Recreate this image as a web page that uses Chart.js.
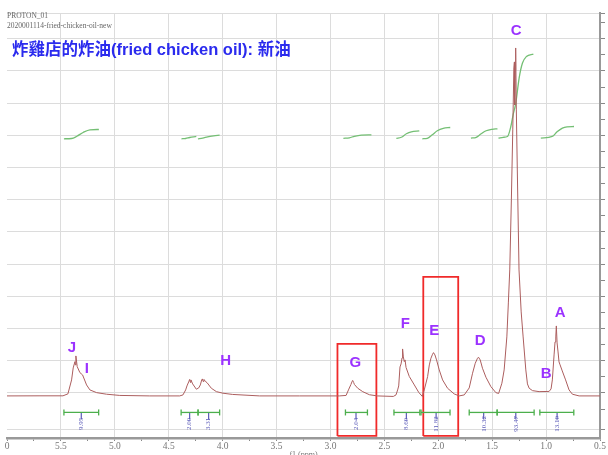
<!DOCTYPE html>
<html><head><meta charset="utf-8">
<script src="https://cdn.jsdelivr.net/npm/chart.js@4.4.1/dist/chart.umd.min.js"></script>
<style>html,body{margin:0;padding:0;background:#fff}canvas{display:block}</style>
</head><body>
<canvas id="c" width="608" height="455"></canvas>
<script>
// ---- header / title text ----
const headerLines = ['PROTON_01', '2020001114-fried-chicken-oil-new'];
const titleText = '炸雞店的炸油(fried chicken oil): 新油';
const xTitle = 'f1 (ppm)';

// ---- x axis ticks (ppm) ----
const xLabelValues = [6.0, 5.5, 5.0, 4.5, 4.0, 3.5, 3.0, 2.5, 2.0, 1.5, 1.0, 0.5];
const xLabelTexts  = ['0', '5.5', '5.0', '4.5', '4.0', '3.5', '3.0', '2.5', '2.0', '1.5', '1.0', '0.5'];
const xMinorTicks  = [5.75, 5.25, 4.75, 4.25, 3.75, 3.25, 2.75, 2.25, 1.75, 1.25, 0.75];

// ---- y axis (intensity) ----
const yGridValues  = [-1.15, 0, 1, 2, 3, 4, 5, 6, 7, 8, 9, 10, 11, 11.8];
const yMinorTicks  = [-0.5, 0.5, 1.5, 2.5, 3.5, 4.5, 5.5, 6.5, 7.5, 8.5, 9.5, 10.5, 11.5];

// ---- 1H spectrum ----
const spectrumPpm = [6.000,5.694,5.481,5.435,5.401,5.386,5.370,5.366,5.361,5.349,5.324,5.299,5.262,5.231,5.169,5.077,4.954,4.676,
 4.398,4.368,4.343,4.331,4.315,4.306,4.299,4.294,4.278,4.244,4.222,4.207,4.194,4.188,4.181,4.173,4.160,4.145,4.105,4.058,3.997,3.907,3.657,3.287,
 2.917,2.855,2.833,2.810,2.801,2.794,2.785,2.778,2.747,2.701,2.639,2.565,2.417,
 2.392,2.377,2.367,2.355,2.345,2.336,2.331,2.324,2.315,2.308,2.299,2.269,2.222,2.181,2.148,
 2.130,2.099,2.083,2.068,2.053,2.044,2.031,2.016,1.991,1.960,1.914,1.852,1.806,1.759,
 1.713,1.682,1.657,1.636,1.627,1.611,1.590,1.558,1.512,1.466,1.440,
 1.410,1.389,1.364,1.350,1.337,1.322,1.309,1.299,1.294,1.291,1.286,1.282,1.276,1.267,1.251,1.231,1.213,1.188,1.173,1.157,1.126,1.065,0.972,
 0.954,0.942,0.926,0.917,0.910,0.905,0.898,0.889,0.880,0.870,0.850,0.819,0.787,0.756,0.694,0.500];
const spectrumInt = [-0.093,-0.090,-0.090,-0.030,0.404,0.776,0.972,0.870,1.149,0.817,0.631,0.559,0.248,0.093,0.009,-0.040,-0.078,-0.093,
 -0.093,-0.062,0.093,0.217,0.342,0.419,0.326,0.404,0.280,0.115,0.155,0.248,0.404,0.435,0.357,0.419,0.357,0.320,0.146,0.040,-0.009,-0.047,-0.093,-0.093,
 -0.093,-0.078,0.093,0.264,0.342,0.388,0.326,0.264,0.146,0.040,-0.056,-0.093,-0.109,
 -0.062,0.093,0.217,0.807,0.901,1.087,1.366,1.118,0.972,1.025,0.792,0.512,0.248,0.016,-0.109,
 0.093,0.506,0.870,1.078,1.202,1.252,1.180,1.025,0.714,0.404,0.146,-0.031,-0.093,-0.062,
 0.155,0.612,0.922,1.078,1.109,1.025,0.767,0.488,0.196,0.009,-0.016,
 0.301,0.714,1.739,2.795,3.820,5.994,8.168,10.093,10.280,8.944,10.031,10.714,8.789,6.925,3.820,2.516,1.739,0.714,0.280,0.146,0.071,0.040,0.047,
 0.124,0.404,1.180,1.584,1.739,2.081,1.553,1.273,0.963,0.870,0.683,0.404,0.093,-0.040,-0.093,-0.093];

// ---- integral curves (ppm, level) ----
const integralCurvesPpm = [
 [5.472,5.401,5.352,5.294,5.231,5.148],
 [4.382,4.343,4.306,4.269,4.244],
 [4.229,4.185,4.139,4.083,4.028],
 [2.880,2.824,2.778,2.713,2.620],
 [2.389,2.343,2.296,2.250,2.176],
 [2.148,2.102,2.056,2.009,1.954,1.889],
 [1.697,1.648,1.602,1.556,1.500,1.451],
 [1.442,1.398,1.358,1.327,1.306,1.281,1.250,1.219,1.182,1.118],
 [1.049,0.943,0.898,0.849,0.806,0.741]
];
const integralCurvesInt = [
 [7.893,7.902,7.971,8.089,8.173,8.182],
 [7.893,7.902,7.933,7.955,7.965],
 [7.893,7.915,7.955,7.986,8.008],
 [7.909,7.924,7.971,8.008,8.017],
 [7.909,7.940,8.048,8.111,8.142],
 [7.893,7.909,8.017,8.142,8.219,8.244],
 [7.915,7.940,8.048,8.142,8.188,8.204],
 [7.915,7.940,7.965,8.275,8.639,9.003,9.779,10.245,10.450,10.525],
 [7.915,7.965,8.111,8.226,8.266,8.275]
];

// ---- integration ranges & values ----
const integralStart  = [5.472, 4.385, 4.228, 2.861, 2.411, 2.160, 1.713, 1.454, 1.058];
const integralEnd    = [5.150, 4.228, 4.028, 2.657, 2.171, 1.891, 1.454, 1.111, 0.743];
const integralCenter = [5.311, 4.306, 4.130, 2.763, 2.296, 2.020, 1.579, 1.281, 0.898];
const integralValues = ['9.95', '2.00', '3.31', '2.04', '8.60', '11.82', '10.32', '93.47', '13.10'];
const integralBarLevel = -0.606;
const integralTickLevel = -0.715;
const integralLabelLevel = -0.963;

// ---- peak letters ----
const peakLetters = ['J', 'I', 'H', 'G', 'F', 'E', 'D', 'C', 'B', 'A'];
const peakPpm     = [5.398, 5.259, 3.972, 2.769, 2.306, 2.037, 1.611, 1.278, 1.000, 0.870];
const peakLevel   = [1.398, 0.745, 0.994, 0.932, 2.143, 1.925, 1.615, 11.242, 0.590, 2.484];

// ---- highlight boxes [ppmLeft, ppmRight, bottom, top] ----
const boxG = [2.935, 2.574, -1.336, 1.522];
const boxE = [2.139, 1.815, -1.336, 3.602];

const pts = (xs, ys) => xs.map((v, i) => ({x: v, y: ys[i]}));
const boxPts = b => [{x:b[0],y:b[2]},{x:b[0],y:b[3]},{x:b[1],y:b[3]},{x:b[1],y:b[2]},{x:b[0],y:b[2]}];

const datasets = [];
datasets.push({data: pts(spectrumPpm, spectrumInt), showLine: true, borderColor: '#ac5e5e', borderWidth: 1, pointRadius: 0, tension: 0});
integralCurvesPpm.forEach((xs, i) => datasets.push({data: pts(xs, integralCurvesInt[i]), showLine: true, borderColor: '#74bf74', borderWidth: 1.3, pointRadius: 0, tension: 0.4, cubicInterpolationMode: 'monotone'}));
integralStart.forEach((s, i) => datasets.push({data: [{x: s, y: integralBarLevel}, {x: integralEnd[i], y: integralBarLevel}], showLine: true, borderColor: '#4caf4c', borderWidth: 1.3, pointStyle: 'line', rotation: 90, pointRadius: 3, pointBorderColor: '#4caf4c', pointBorderWidth: 1.3}));
datasets.push({data: integralCenter.map(c => ({x: c, y: integralTickLevel})), showLine: false, pointStyle: 'line', rotation: 90, pointRadius: 3.5, pointBorderColor: '#5a5ab8', pointBorderWidth: 1.2});
[boxG, boxE].forEach(b => datasets.push({data: boxPts(b), showLine: true, borderColor: '#f02a2a', borderWidth: 1.8, pointRadius: 0, tension: 0}));

const overlay = {
  id: 'overlay',
  afterDatasetsDraw(chart) {
    const {ctx, scales: {x, y}} = chart;
    ctx.save();
    ctx.textAlign = 'left'; ctx.textBaseline = 'middle';
    ctx.fillStyle = '#666';
    ctx.font = '7.5px "Liberation Serif", serif';
    ctx.fillText(headerLines[0], 7, 16);
    ctx.fillText(headerLines[1], 7, 26);
    ctx.fillStyle = '#2b2bee';
    ctx.font = 'bold 16.5px "Liberation Sans", "Noto Sans CJK TC", sans-serif';
    ctx.fillText(titleText, 12, 50);
    ctx.fillStyle = '#9b32ff';
    ctx.font = 'bold 15px "Liberation Sans", Arial, sans-serif';
    ctx.textAlign = 'center';
    peakLetters.forEach((t, i) => ctx.fillText(t, x.getPixelForValue(peakPpm[i]), y.getPixelForValue(peakLevel[i])));
    ctx.fillStyle = '#5a5ab8';
    ctx.font = '7px "Liberation Serif", serif';
    integralValues.forEach((t, i) => {
      ctx.save();
      ctx.translate(x.getPixelForValue(integralCenter[i]), y.getPixelForValue(integralLabelLevel));
      ctx.rotate(-Math.PI / 2);
      ctx.textAlign = 'center'; ctx.textBaseline = 'middle';
      ctx.fillText(t, 0, 0);
      ctx.restore();
    });
    ctx.restore();
  }
};

new Chart(document.getElementById('c'), {
  type: 'scatter',
  data: {datasets},
  options: {
    responsive: false, animation: false, devicePixelRatio: 1,
    layout: {padding: {left: 7, right: 3, top: 13, bottom: -5}},
    plugins: {legend: {display: false}, tooltip: {enabled: false}},
    scales: {
      x: {
        type: 'linear', reverse: true, min: 0.5, max: 6.0, position: 'bottom',
        afterBuildTicks: s => { s.ticks = xLabelValues.concat(xMinorTicks).sort((a, b) => b - a).map(v => ({value: v})); },
        ticks: {
          autoSkip: false, maxRotation: 0, padding: 0, color: '#777',
          font: {family: '"Liberation Serif", serif', size: 9.5},
          callback: v => { const k = xLabelValues.findIndex(q => Math.abs(q - v) < 1e-6); return k >= 0 ? xLabelTexts[k] : ''; }
        },
        grid: {
          color: c => (c.tick && xLabelValues.some(q => Math.abs(q - c.tick.value) < 1e-6) && c.tick.value < 5.99) ? '#dcdcdc' : 'rgba(0,0,0,0)',
          tickColor: '#888', tickLength: 3, lineWidth: 1
        },
        border: {color: '#999', width: 2.5},
        title: {display: true, text: xTitle, color: '#777', font: {family: '"Liberation Serif", serif', size: 8}, padding: {top: -2, bottom: 0}}
      },
      y: {
        type: 'linear', position: 'right', min: -1.4, max: 11.8,
        afterBuildTicks: s => { s.ticks = yGridValues.concat(yMinorTicks).sort((a, b) => a - b).map(v => ({value: v})); },
        ticks: {display: false},
        grid: {
          color: c => (c.tick && yGridValues.some(q => Math.abs(q - c.tick.value) < 1e-6)) ? '#dcdcdc' : 'rgba(0,0,0,0)',
          tickColor: '#888', tickLength: 5, lineWidth: 1
        },
        border: {color: '#999', width: 2}
      }
    }
  },
  plugins: [overlay]
});
</script>
</body></html>
